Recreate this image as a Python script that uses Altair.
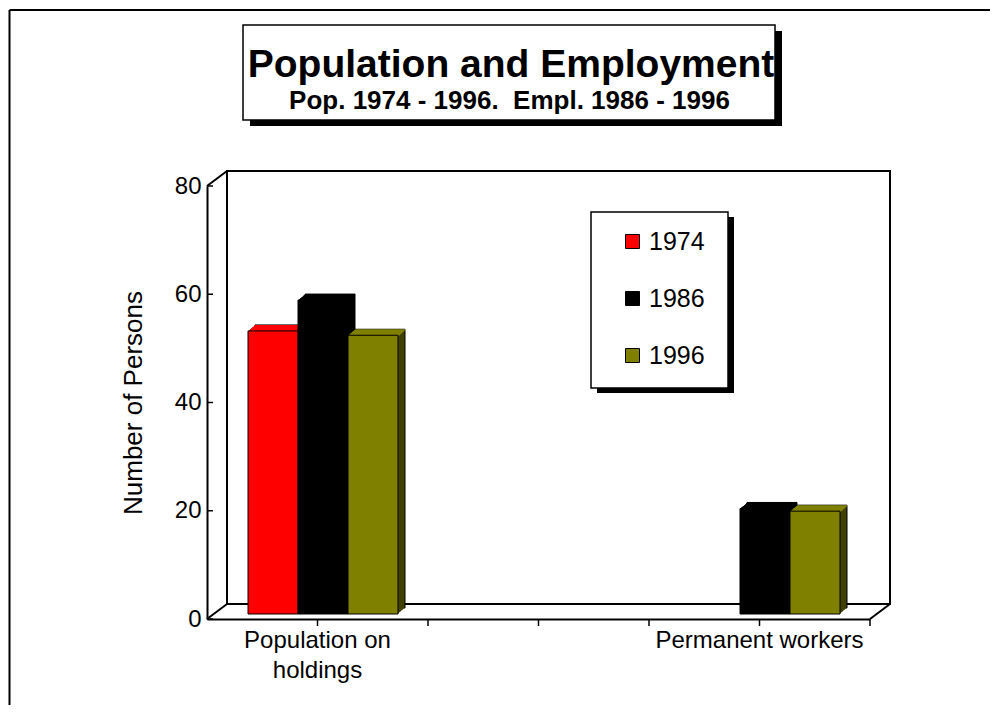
import altair as alt
import pandas as pd

# ---------------- data ----------------
categories = ["Population on holdings", "gap", "Permanent workers"]
years = ["1974", "1986", "1996"]
pop_values = [52.3, 58.0, 51.5]      # Population on holdings 1974, 1986, 1996
perm_values = [None, 19.5, 19.0]     # Permanent workers (no 1974 figure)
bar_colors = ["#ff0000", "#000000", "#808000"]
side_colors = ["#990000", "#000000", "#404000"]
y_ticks = [0, 20, 40, 60, 80]
title_text = "Population and Employment"
subtitle_text = "Pop. 1974 - 1996. \u00a0Empl. 1986 - 1996"
y_title = "Number of Persons"

rows = []
for cat, vals in [(categories[0], pop_values), (categories[2], perm_values)]:
    for yr, v, sc in zip(years, vals, side_colors):
        if v is not None:
            rows.append({"category": cat, "year": yr, "value": v, "side": sc})
df = pd.DataFrame(rows)
one = pd.DataFrame({"k": [0]})
tick_df = pd.DataFrame({"tick": y_ticks})
cat_df = pd.DataFrame({"category": categories})

FONT = "Liberation Sans"
W, H = 663, 433
DX, DY = 20, 15      # wall depth (px)
BX, BY = 7, 6        # bar depth (px)
GX0, GX1 = 41, 191   # bar group extent inside a category band (px)
FY = 5               # bar front face lift (px)
N = 7

x_axis = alt.Axis(
    title=None, labelFontSize=24, labelFont=FONT, labelColor="black",
    labelPadding=9, labelLineHeight=30, labelLimit=0, labelAngle=0,
    ticks=False, tickSize=0, domainColor="black", domainWidth=2, grid=False,
    labelExpr="datum.value == 'Population on holdings' ? ['Population on', 'holdings'] : (datum.value == 'gap' ? '' : datum.value)",
)
y_axis = alt.Axis(
    values=y_ticks, title=y_title, titleFontSize=26, titleFont=FONT,
    titleFontWeight="normal", titleColor="black", titlePadding=28,
    labelFontSize=24, labelFont=FONT, labelColor="black", labelPadding=6,
    ticks=False, tickSize=0, domainColor="black", domainWidth=2, grid=False,
)
x_scale = alt.Scale(domain=categories, paddingInner=0, paddingOuter=0)
y_scale = alt.Scale(domain=[0, 80], nice=False, zero=True)
X = alt.X("category:N", scale=x_scale, axis=x_axis)
Y = alt.Y("value:Q", scale=y_scale, axis=y_axis)
COLOR = alt.Color(
    "year:N", scale=alt.Scale(domain=years, range=bar_colors),
    legend=alt.Legend(
        title=None, orient="none", legendX=413, legendY=43, padding=0,
        symbolType="square", symbolSize=196, symbolStrokeColor="black",
        symbolStrokeWidth=1, labelFontSize=25, labelFont=FONT, labelColor="black",
        labelOffset=4, rowPadding=31,
    ),
)


def XO(shift):
    return alt.XOffset("year:N", scale=alt.Scale(
        domain=years, range=[GX0 + shift, GX1 + shift], paddingInner=0, paddingOuter=0))


def rect(x, x2, y, y2, **kw):
    return alt.Chart(one).mark_rect(**kw).encode(
        x=alt.value(x), x2=alt.value(x2), y=alt.value(y), y2=alt.value(y2))


def line(x, y, x2, y2, width=2):
    return alt.Chart(one).mark_rule(color="black", strokeWidth=width).encode(
        x=alt.value(x), y=alt.value(y), x2=alt.value(x2), y2=alt.value(y2))


layers = []
# outer frame (left and top edges)
layers.append(line(-197.5, -176, -197.5, H + 100))
layers.append(line(-197.5, -176, W + 200, -176))
# title box with shadow
layers.append(rect(43, 575, -155, -60, fill="black"))
layers.append(rect(36, 568, -161, -66, fill="white", stroke="black", strokeWidth=1.5))
layers.append(alt.Chart(one).mark_text(font=FONT, fontSize=39, fontWeight="bold", color="black",
                                      align="center", baseline="alphabetic").encode(
    x=alt.value(304), y=alt.value(-109), text=alt.value(title_text)))
layers.append(alt.Chart(one).mark_text(font=FONT, fontSize=26, fontWeight="bold", color="black",
                                      align="center", baseline="alphabetic").encode(
    x=alt.value(302.5), y=alt.value(-77), text=alt.value(subtitle_text)))
# back wall and depth edges
layers.append(rect(DX, W + DX, -DY, H - DY, fill="white", stroke="black", strokeWidth=2))
layers.append(line(0, 0, DX, -DY))
layers.append(line(0, H, DX, H - DY))
layers.append(line(W, H, W + DX, H - DY))
# legend box with shadow
layers.append(rect(390, 527, 31, 207, fill="black"))
layers.append(rect(384, 521, 26, 202, fill="white", stroke="black", strokeWidth=1.5))
# y ticks (pointing inward)
layers.append(alt.Chart(tick_df).mark_rule(color="black", strokeWidth=1.5).encode(
    y=alt.Y("tick:Q", scale=y_scale, axis=y_axis), x=alt.value(0), x2=alt.value(6)))
# x ticks at band centres and band ends
for bp in (0.5, 1.0):
    layers.append(alt.Chart(cat_df).mark_rule(color="black", strokeWidth=1.5).encode(
        x=alt.X("category:N", scale=x_scale, axis=x_axis, bandPosition=bp),
        y=alt.value(H), y2=alt.value(H + 7)))
# bar depth: side faces
for i in range(N, 0, -1):
    ox = BX * i / N
    oy = -FY - BY * i / N
    kw = dict(yOffset=oy, y2Offset=oy)
    if i == N:
        kw.update(stroke="black", strokeWidth=1)
    layers.append(alt.Chart(df).mark_bar(**kw).encode(
        x=X, xOffset=XO(ox), y=Y, fill=alt.Fill("side:N", scale=None)))
# bar depth: top faces
for i in range(1, N + 1):
    ox = BX * i / N
    oy = -FY - BY * i / N
    layers.append(alt.Chart(df).mark_bar(yOffset=oy, y2Offset=oy + 1.6).encode(
        x=X, xOffset=XO(ox), y=Y, y2=alt.Y2("value:Q"), color=COLOR))
# bar front faces
layers.append(alt.Chart(df).mark_bar(yOffset=-FY, y2Offset=-FY, stroke="black", strokeWidth=1).encode(
    x=X, xOffset=XO(0), y=Y, color=COLOR))

chart = alt.layer(*layers).resolve_scale(xOffset="independent").properties(
    width=W, height=H,
    autosize=alt.AutoSizeParams(type="none"),
    padding={"left": 199, "top": 178, "right": 982 - 199 - W, "bottom": 697 - 178 - H},
    background="white",
).configure_view(stroke=None)

chart.save("out.html", embed_options={"renderer": "svg", "actions": False})
